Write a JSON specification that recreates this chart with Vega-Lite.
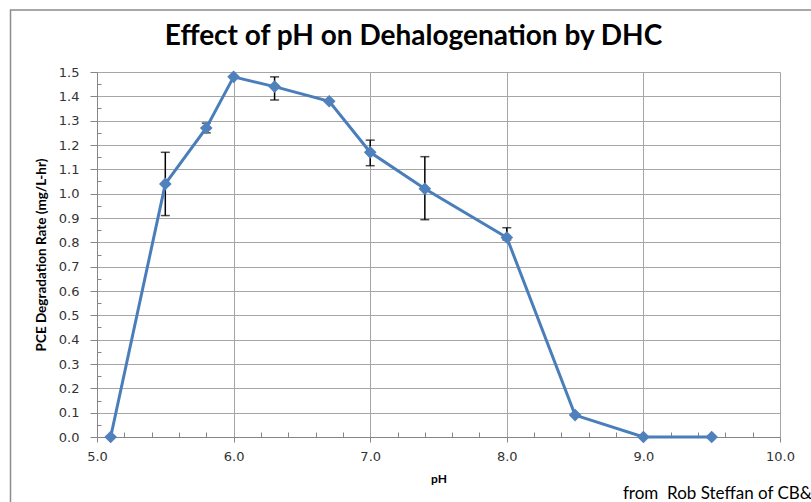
{
  "$schema": "https://vega.github.io/schema/vega-lite/v6.json",
  "autosize": {"type": "none"},
  "width": 683,
  "height": 365,
  "padding": {"left": 97, "top": 72, "right": 31, "bottom": 65},
  "background": "white",
  "config": {"view": {"stroke": null}},
  "title": {
    "text": "Effect of pH on Dehalogenation by DHC",
    "font": "Lato",
    "fontSize": 28,
    "fontWeight": "bold",
    "color": "#000000",
    "anchor": "middle",
    "baseline": "alphabetic",
    "dx": -25,
    "offset": -64
  },
  "data": {
    "values": [
      {"pH": 5.1, "rate": 0.0, "lo": null, "hi": null},
      {"pH": 5.5, "rate": 1.04, "lo": 0.91, "hi": 1.17},
      {"pH": 5.8, "rate": 1.27, "lo": 1.25, "hi": 1.29},
      {"pH": 6.0, "rate": 1.48, "lo": null, "hi": null},
      {"pH": 6.3, "rate": 1.44, "lo": 1.385, "hi": 1.48},
      {"pH": 6.7, "rate": 1.38, "lo": null, "hi": null},
      {"pH": 7.0, "rate": 1.17, "lo": 1.115, "hi": 1.22},
      {"pH": 7.4, "rate": 1.02, "lo": 0.893, "hi": 1.152},
      {"pH": 8.0, "rate": 0.82, "lo": 0.81, "hi": 0.86},
      {"pH": 8.5, "rate": 0.09, "lo": null, "hi": null},
      {"pH": 9.0, "rate": 0.0, "lo": null, "hi": null},
      {"pH": 9.5, "rate": 0.0, "lo": null, "hi": null}
    ]
  },
  "resolve": {"axis": {"x": "independent", "y": "independent"}},
  "layer": [
    {
      "data": {"values": [{"note": "frame"}]},
      "mark": {"type": "rect", "filled": false, "stroke": "#8c8c8c", "strokeWidth": 1.5, "clip": false},
      "encoding": {
        "x": {"datum": 4.3668, "type": "quantitative", "scale": {"domain": [5, 10], "nice": false, "zero": false}, "axis": null},
        "x2": {"datum": 11.5},
        "y": {"datum": 1.755, "type": "quantitative", "scale": {"domain": [0, 1.5], "nice": false}, "axis": null},
        "y2": {"datum": -1}
      }
    },
    {
      "data": {"values": [{"note": "from\u00a0 Rob Steffan of CB&I"}]},
      "mark": {"type": "text", "align": "left", "baseline": "middle", "font": "Lato", "fontSize": 17, "color": "#000000", "clip": false},
      "encoding": {
        "text": {"field": "note"},
        "x": {"datum": 8.85, "type": "quantitative", "axis": null},
        "y": {"datum": -0.234, "type": "quantitative", "axis": null}
      }
    },
    {
      "transform": [{"filter": "datum.lo != null"}],
      "mark": {"type": "errorbar", "color": "#000000", "ticks": {"size": 9, "thickness": 1.5}, "rule": {"strokeWidth": 1.5}},
      "encoding": {
        "x": {"field": "pH", "type": "quantitative", "axis": null},
        "y": {"field": "lo", "type": "quantitative", "axis": null},
        "y2": {"field": "hi"}
      }
    },
    {
      "mark": {"type": "line", "color": "#4A7EBB", "strokeWidth": 3},
      "encoding": {
        "x": {
          "field": "pH", "type": "quantitative",
          "axis": {
            "orient": "bottom",
            "values": [5, 6, 7, 8, 9, 10],
            "format": ".1f",
            "grid": true, "gridColor": "#a6a6a6", "gridWidth": 1,
            "domainColor": "#868686", "domainWidth": 1,
            "tickColor": "#868686", "tickSize": 5,
            "labelFont": "DejaVu Sans", "labelFontSize": 13, "labelColor": "#333333", "labelPadding": 8,
            "labelFlush": false,
            "title": "pH", "titleFont": "Lato", "titleFontSize": 12, "titleFontWeight": "bold", "titleColor": "#000000", "titlePadding": 10
          }
        },
        "y": {
          "field": "rate", "type": "quantitative",
          "axis": {
            "orient": "left",
            "values": [0, 0.1, 0.2, 0.3, 0.4, 0.5, 0.6, 0.7, 0.8, 0.9, 1.0, 1.1, 1.2, 1.3, 1.4, 1.5],
            "format": ".1f",
            "grid": true, "gridColor": "#a6a6a6", "gridWidth": 1,
            "domainColor": "#868686", "domainWidth": 1,
            "tickColor": "#868686", "tickSize": 7,
            "labelFont": "DejaVu Sans", "labelFontSize": 13, "labelColor": "#333333", "labelPadding": 11,
            "labelFlush": false,
            "title": "PCE Degradation Rate (mg/L-hr)", "titleFont": "Lato", "titleFontSize": 13.5, "titleFontWeight": "bold", "titleColor": "#000000", "titlePadding": 10
          }
        }
      }
    },
    {
      "mark": {"type": "point", "shape": "diamond", "filled": true, "opacity": 1, "color": "#4F81BD", "size": 160},
      "encoding": {
        "x": {
          "field": "pH", "type": "quantitative",
          "axis": {
            "orient": "bottom",
            "values": [5.2, 5.4, 5.6, 5.8, 6.2, 6.4, 6.6, 6.8, 7.2, 7.4, 7.6, 7.8, 8.2, 8.4, 8.6, 8.8, 9.2, 9.4, 9.6, 9.8],
            "labels": false, "grid": false, "domain": false, "title": null,
            "tickColor": "#868686", "tickSize": -5
          }
        },
        "y": {
          "field": "rate", "type": "quantitative",
          "axis": {
            "orient": "left",
            "values": [0.05, 0.15, 0.25, 0.35, 0.45, 0.55, 0.65, 0.75, 0.85, 0.95, 1.05, 1.15, 1.25, 1.35, 1.45],
            "labels": false, "grid": false, "domain": false, "title": null,
            "tickColor": "#868686", "tickSize": -4
          }
        }
      }
    }
  ]
}
